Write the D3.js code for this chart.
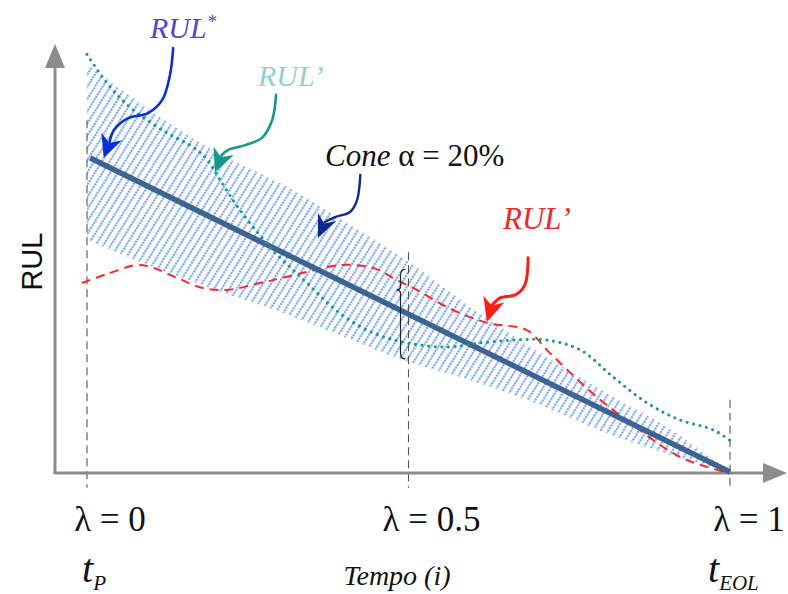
<!DOCTYPE html>
<html>
<head>
<meta charset="utf-8">
<script src="https://cdn.jsdelivr.net/npm/d3@7"></script>
<style>
  body { margin: 0; background: #fff; }
  svg { display: block; }
</style>
</head>
<body>
<svg id="chart" width="788" height="594"></svg>
<script>
// ---- data (λ = normalised time, RUL in units of RUL* at λ = 0) ----
const coneLambda = [0, 0.1, 0.2, 0.3, 0.4, 0.5, 0.6, 0.7, 0.8, 0.9, 1];
const coneUpper  = [1.30, 1.15, 1.02, 0.92, 0.80, 0.67, 0.52, 0.385, 0.26, 0.145, 0];
const coneLower  = [0.74, 0.655, 0.58, 0.51, 0.43, 0.35, 0.29, 0.217, 0.13, 0.06, 0];

const rulStarLambda = [0.005, 1];
const rulStarValues = [1, 0];

const tealLambda = [0, 0.036, 0.072, 0.124, 0.165, 0.187, 0.207, 0.238, 0.289, 0.342, 0.393,
                    0.445, 0.498, 0.56, 0.611, 0.663, 0.715, 0.767, 0.818, 0.871, 0.922, 0.974, 1.003];
const tealValues = [1.33, 1.226, 1.153, 1.08, 1.035, 0.994, 0.93, 0.834, 0.707, 0.602, 0.506,
                    0.443, 0.411, 0.398, 0.411, 0.42, 0.42, 0.389, 0.303, 0.22, 0.166, 0.134, 0.096];

const redLambda = [-0.008, 0.036, 0.078, 0.103, 0.14, 0.18, 0.218, 0.269, 0.289, 0.342, 0.393,
                   0.445, 0.482, 0.513, 0.56, 0.622, 0.684, 0.715, 0.747, 0.793, 0.845, 0.922, 0.992];
const redValues = [0.602, 0.634, 0.659, 0.65, 0.618, 0.586, 0.58, 0.602, 0.611, 0.637, 0.659,
                   0.65, 0.611, 0.58, 0.525, 0.475, 0.452, 0.389, 0.325, 0.239, 0.156, 0.048, 0];

const tickLambda = [0, 0.5, 1];
const tickLabels = ["\u03bb = 0", "\u03bb = 0.5", "\u03bb = 1"];
const markerLambda = [0, 0.5, 1];          // vertical guide lines
const markerTop    = [1.12, 0.70, 0.23];   // where each guide line starts

// ---- layout ----
const svg = d3.select("#chart");
const x = d3.scaleLinear().domain([0, 1]).range([87, 730]);
const y = d3.scaleLinear().domain([0, 1]).range([472, 158]);
const serif = "'Liberation Serif', 'Times New Roman', serif";

// hatch pattern for the α-cone
const defs = svg.append("defs");
const pat = defs.append("pattern")
  .attr("id", "hatch")
  .attr("patternUnits", "userSpaceOnUse")
  .attr("width", 6.5).attr("height", 6)
  .attr("patternTransform", "rotate(32)");
pat.append("line")
  .attr("x1", 3).attr("y1", 0).attr("x2", 3).attr("y2", 6)
  .attr("stroke", "#74a3f6").attr("stroke-width", 2)
  .attr("stroke-dasharray", "2.2 0.8");

// α-cone
const cone = coneLambda.map((l, i) => ({ l, hi: coneUpper[i], lo: coneLower[i] }));
svg.append("path")
  .datum(cone)
  .attr("fill", "url(#hatch)")
  .attr("d", d3.area()
    .x(d => x(d.l)).y0(d => y(d.lo)).y1(d => y(d.hi))
    .curve(d3.curveMonotoneX));

// vertical guides
markerLambda.forEach((l, i) => {
  svg.append("line")
    .attr("x1", x(l)).attr("x2", x(l))
    .attr("y1", y(markerTop[i])).attr("y2", y(-0.05))
    .attr("stroke", "#555").attr("stroke-width", 1.1)
    .attr("stroke-dasharray", "8 5");
});

// axes with arrowheads
const axisColor = "#8c8c8c";
const ox = 55, oy = y(0) + 1;
svg.append("line").attr("x1", ox).attr("y1", oy).attr("x2", ox).attr("y2", 62)
  .attr("stroke", axisColor).attr("stroke-width", 3);
svg.append("line").attr("x1", ox - 1.5).attr("y1", oy).attr("x2", 766).attr("y2", oy)
  .attr("stroke", axisColor).attr("stroke-width", 3);
svg.append("path").attr("d", `M${ox},44 L${ox - 10},68 L${ox + 10},68 Z`).attr("fill", axisColor);
svg.append("path").attr("d", `M787,${oy} L763,${oy - 10} L763,${oy + 10} Z`).attr("fill", axisColor);

// RUL' (red dashed)
svg.append("path")
  .datum(redLambda.map((l, i) => [l, redValues[i]]))
  .attr("fill", "none").attr("stroke", "#ff2626").attr("stroke-width", 2)
  .attr("stroke-dasharray", "9 6")
  .attr("d", d3.line().x(d => x(d[0])).y(d => y(d[1])).curve(d3.curveCatmullRom));

// RUL* (reference line)
svg.append("path")
  .datum(rulStarLambda.map((l, i) => [l, rulStarValues[i]]))
  .attr("fill", "none").attr("stroke", "#3f6391").attr("stroke-width", 5.5)
  .attr("d", d3.line().x(d => x(d[0])).y(d => y(d[1])));

// RUL' (teal dotted)
svg.append("path")
  .datum(tealLambda.map((l, i) => [l, tealValues[i]]))
  .attr("fill", "none").attr("stroke", "#1c9a8b").attr("stroke-width", 3)
  .attr("stroke-linecap", "round").attr("stroke-dasharray", "0.1 6.5")
  .attr("d", d3.line().x(d => x(d[0])).y(d => y(d[1])).curve(d3.curveCatmullRom));

// interval brace at λ = 0.5
{
  const bx = x(0.5) - 8, t = y(0.645), m = y(0.58), b = y(0.36);
  svg.append("path")
    .attr("fill", "none").attr("stroke", "#222").attr("stroke-width", 1.2)
    .attr("d", `M${bx + 5},${t} Q${bx},${t} ${bx},${t + 6} L${bx},${m - 4} Q${bx},${m} ${bx - 4},${m}
                Q${bx},${m} ${bx},${m + 4} L${bx},${b - 6} Q${bx},${b} ${bx + 5},${b}`);
}

// curved annotation arrows (points in chart units, last point is the tip)
function arrow(pts, color, width, headLen, headHalf) {
  const p = pts.map(d => [x(d[0]), y(d[1])]);
  const tip = p[p.length - 1], prev = p[p.length - 2];
  const dx = tip[0] - prev[0], dy = tip[1] - prev[1];
  const len = Math.hypot(dx, dy), ux = dx / len, uy = dy / len;
  const nx = -uy, ny = ux;
  const base = [tip[0] - ux * headLen, tip[1] - uy * headLen];
  const shaft = p.slice(0, -1).concat([[base[0] + ux * 4, base[1] + uy * 4]]);
  svg.append("path")
    .attr("fill", "none").attr("stroke", color).attr("stroke-width", width)
    .attr("stroke-linecap", "round")
    .attr("d", d3.line().curve(d3.curveCatmullRom)(shaft));
  const notch = [base[0] + ux * 5, base[1] + uy * 5];
  svg.append("path")
    .attr("fill", color)
    .attr("d", `M${tip[0]},${tip[1]}
      L${base[0] + nx * headHalf - ux * 2},${base[1] + ny * headHalf - uy * 2}
      L${notch[0]},${notch[1]}
      L${base[0] - nx * headHalf - ux * 2},${base[1] - ny * headHalf - uy * 2} Z`);
}

arrow([[0.134, 1.350], [0.129, 1.264], [0.117, 1.185], [0.095, 1.143], [0.064, 1.127],
       [0.042, 1.089], [0.026, 1.0]], "#0a2fd2", 2.6, 21, 11);
arrow([[0.294, 1.201], [0.288, 1.121], [0.272, 1.064], [0.246, 1.041], [0.219, 1.025],
       [0.210, 1.010], [0.199, 0.955]], "#159a8a", 2.6, 21, 11);
arrow([[0.425, 0.946], [0.420, 0.866], [0.409, 0.828], [0.386, 0.812], [0.370, 0.796],
       [0.359, 0.745]], "#0c2a8e", 2.4, 21, 10);
arrow([[0.686, 0.682], [0.681, 0.596], [0.666, 0.564], [0.642, 0.554], [0.630, 0.532],
       [0.622, 0.478]], "#ff1a1a", 3, 22, 11);

// annotation labels
const rulStar = svg.append("text")
  .attr("x", 150).attr("y", 38)
  .attr("font-family", serif).attr("font-style", "italic").attr("font-size", 30)
  .attr("fill", "#5244d4").text("RUL");
rulStar.append("tspan").attr("dy", -10).attr("font-size", 19).text("*");

svg.append("text")
  .attr("x", 258).attr("y", 86)
  .attr("font-family", serif).attr("font-style", "italic").attr("font-size", 30)
  .attr("fill", "#8ed3c6").text("RUL\u2019");

const coneTxt = svg.append("text")
  .attr("x", 325).attr("y", 166)
  .attr("font-family", serif).attr("font-size", 31).attr("fill", "#111");
coneTxt.append("tspan").attr("font-style", "italic").text("Cone ");
coneTxt.append("tspan").text("\u03b1 = 20%");

svg.append("text")
  .attr("x", 503).attr("y", 229)
  .attr("font-family", serif).attr("font-style", "italic").attr("font-size", 31)
  .attr("fill", "#ef2727").text("RUL\u2019");

// axis titles and λ ticks
svg.append("text")
  .attr("transform", `translate(42,${y(0.67)}) rotate(-90)`)
  .attr("text-anchor", "middle")
  .attr("font-family", "'Liberation Sans', Arial, sans-serif").attr("font-size", 29)
  .attr("fill", "#111").text("RUL");

svg.selectAll("text.tick")
  .data(tickLambda)
  .enter().append("text")
  .attr("class", "tick")
  .attr("x", (d, i) => x(d) + [23, 23, 19][i])
  .attr("y", 531)
  .attr("text-anchor", "middle")
  .attr("font-family", serif).attr("font-size", 35).attr("fill", "#111")
  .text((d, i) => tickLabels[i]);

const tp = svg.append("text")
  .attr("x", x(0) - 5).attr("y", 582)
  .attr("font-family", serif).attr("font-style", "italic").attr("font-size", 40)
  .attr("fill", "#111").text("t");
tp.append("tspan").attr("dy", 8).attr("font-size", 21).text("P");

svg.append("text")
  .attr("x", 397).attr("y", 585)
  .attr("text-anchor", "middle")
  .attr("font-family", serif).attr("font-style", "italic").attr("font-size", 28)
  .attr("fill", "#111").text("Tempo (i)");

const te = svg.append("text")
  .attr("x", x(1) - 22).attr("y", 582)
  .attr("font-family", serif).attr("font-style", "italic").attr("font-size", 40)
  .attr("fill", "#111").text("t");
te.append("tspan").attr("dy", 8).attr("font-size", 21).text("EOL");
</script>
</body>
</html>
